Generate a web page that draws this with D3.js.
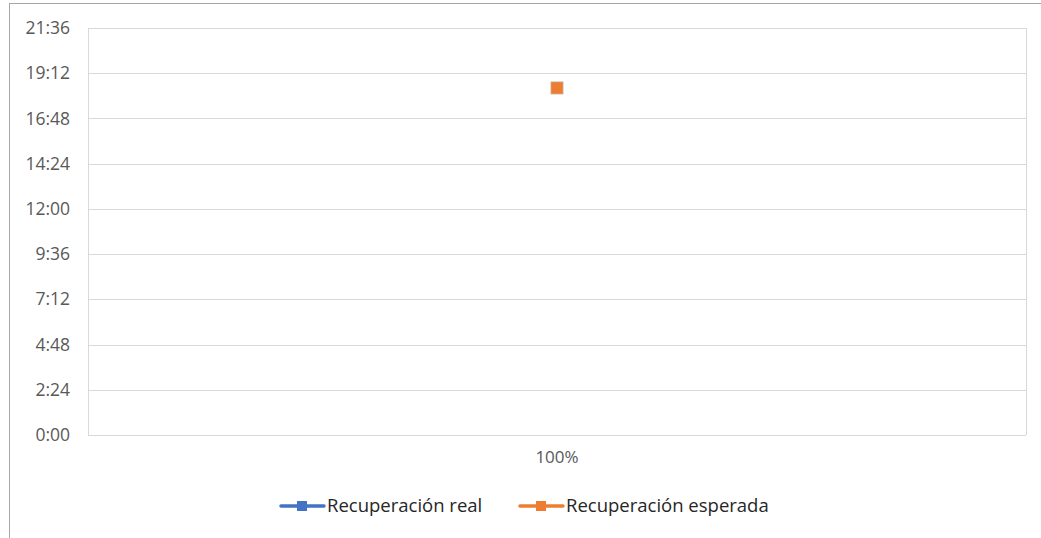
<html lang="en">
<head>
  <meta charset="utf-8">
  <title>Recuperación</title>
  <script src="https://d3js.org/d3.v7.min.js"></script>
  <style>
    body { margin: 0; background: #fff; }
    svg { display: block; font-family: "Open Sans", sans-serif; }
  </style>
</head>
<body>
<svg id="chart"></svg>
<script>

// ---- data (values in fractions of a day, Excel style) ----
var categories = ['100%'];
var realValues = [null];
var esperadaValues = [0.7674];   // ~18:25
var yTicks = [0, 0.1, 0.2, 0.3, 0.4, 0.5, 0.6, 0.7, 0.8, 0.9];
var seriesNames = ['Recuperación real', 'Recuperación esperada'];
var seriesColors = ['#4472C4', '#ED7D31'];

var width = 1041, height = 538;
var margin = { top: 28, right: 15, bottom: 103, left: 88 };

var svg = d3.select('#chart').attr('width', width).attr('height', height);

// outer chart border (only left and top visible in the shot)
svg.append('line').attr('x1', 9.5).attr('x2', 9.5).attr('y1', 3).attr('y2', height)
  .attr('stroke', '#a6a6a6').attr('stroke-width', 1);
svg.append('line').attr('x1', 9).attr('x2', width).attr('y1', 3.5).attr('y2', 3.5)
  .attr('stroke', '#a6a6a6').attr('stroke-width', 1);

var x = d3.scaleBand().domain(categories).range([margin.left, width - margin.right]);
var y = d3.scaleLinear().domain([0, 0.9]).range([height - margin.bottom, margin.top]);

function fmtTime(d){
  var mins = Math.round(d * 24 * 60);
  var h = Math.floor(mins / 60), m = mins % 60;
  return h + ':' + (m < 10 ? '0' : '') + m;
}

// gridlines
svg.append('g').selectAll('line').data(yTicks).enter().append('line')
  .attr('x1', margin.left).attr('x2', width - margin.right)
  .attr('y1', d => Math.round(y(d)) + 0.5).attr('y2', d => Math.round(y(d)) + 0.5)
  .attr('stroke', '#d9d9d9').attr('stroke-width', 1);

// plot area sides
[margin.left, width - margin.right].forEach(function(xx){
  svg.append('line').attr('x1', xx + 0.5).attr('x2', xx + 0.5)
    .attr('y1', y(0.9)).attr('y2', y(0))
    .attr('stroke', '#d9d9d9').attr('stroke-width', 1);
});

// y axis labels
var yAxis = d3.axisLeft(y).tickValues(yTicks).tickFormat(fmtTime).tickSize(0).tickPadding(0);
var gy = svg.append('g').attr('transform', 'translate(' + 70 + ',0)').call(yAxis);
gy.select('.domain').remove();
gy.selectAll('text').attr('fill', '#595959').style('font-size', '17.5px').style('font-family', '"Open Sans", sans-serif');

// x axis labels
var xAxis = d3.axisBottom(x).tickSize(0).tickPadding(0);
var gx = svg.append('g').attr('transform', 'translate(0,' + 451 + ')').call(xAxis);
gx.select('.domain').remove();
gx.selectAll('text').attr('fill', '#595959').style('font-size', '17px').style('font-family', '"Open Sans", sans-serif');

// series markers
var series = [realValues, esperadaValues];
series.forEach(function(vals, si){
  var pts = categories.map((c, i) => ({ c: c, v: vals[i] })).filter(d => d.v != null);
  svg.append('path')
    .datum(pts)
    .attr('fill', 'none').attr('stroke', seriesColors[si]).attr('stroke-width', 2.5)
    .attr('d', d3.line().x(d => x(d.c) + x.bandwidth() / 2).y(d => y(d.v)));
  svg.append('g').selectAll('rect').data(pts).enter().append('rect')
    .attr('x', d => x(d.c) + x.bandwidth() / 2 - 6)
    .attr('y', d => y(d.v) - 6)
    .attr('width', 12).attr('height', 12)
    .attr('fill', seriesColors[si])
    .attr('stroke', '#c9a58e').attr('stroke-width', 0.8);
});

// legend
var legendX = [280, 519];
var legend = svg.append('g');
seriesNames.forEach(function(name, i){
  var g = legend.append('g').attr('transform', 'translate(' + legendX[i] + ',506)');
  g.append('line').attr('x1', 1).attr('x2', 44).attr('y1', 0).attr('y2', 0)
    .attr('stroke', seriesColors[i]).attr('stroke-width', 3.5).attr('stroke-linecap', 'round');
  g.append('rect').attr('x', 17).attr('y', -5).attr('width', 10).attr('height', 10)
    .attr('fill', seriesColors[i]);
  g.append('text').attr('x', 47).attr('y', 0).attr('dy', '0.35em')
    .attr('fill', '#262626').style('font-size', '18.5px').text(name);
});

</script>
</body>
</html>
